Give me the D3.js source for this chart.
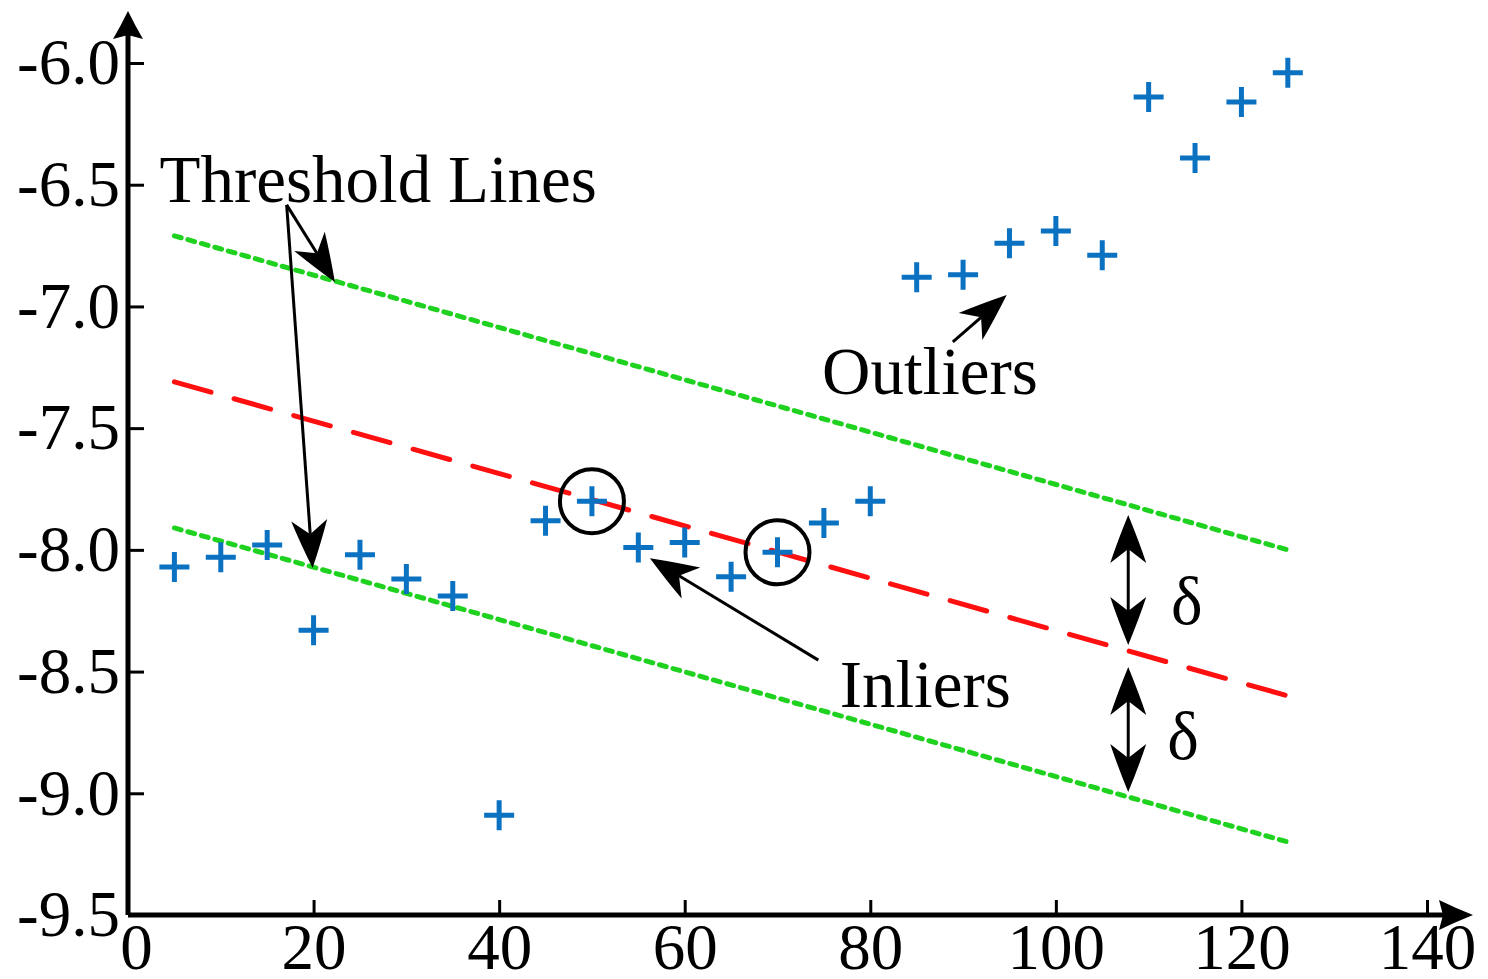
<!DOCTYPE html>
<html>
<head>
<meta charset="utf-8">
<script src="https://cdn.jsdelivr.net/npm/d3@7"></script>
<style>
  body { margin: 0; background: #fff; }
  text { font-family: 'Liberation Serif', 'Times New Roman', serif; }
</style>
</head>
<body>
<div id="chart"></div>
<script>
// sample points
const ptX = [5, 10, 15, 20, 25, 30, 35, 40, 45, 50, 55, 60, 65, 70, 75, 80, 85, 90, 95, 100, 105, 110, 115, 120, 125]
const ptY = [-8.07, -8.03, -7.98, -8.33, -8.02, -8.12, -8.19, -9.09, -7.88, -7.80, -7.99, -7.97, -8.11, -8.01, -7.89, -7.80,
  -6.88, -6.87, -6.74, -6.69, -6.79, -6.14, -6.39, -6.16, -6.04]
const circledX = [50, 70]

// fitted line and threshold lines (x = 5 .. 125)
const lineX = [5, 125]
const fitY = [-7.31, -8.60]
const upperY = [-6.71, -8.00]
const lowerY = [-7.91, -9.20]

// ticks
const xTicks = [0, 20, 40, 60, 80, 100, 120, 140]
const yTicks = [-9.5, -9.0, -8.5, -8.0, -7.5, -7.0, -6.5, -6.0]

// annotations, in data units
const labels = [
  { text: 'Threshold Lines', x: 3.4, y: -6.57 },
  { text: 'Outliers', x: 74.8, y: -7.36 },
  { text: 'Inliers', x: 76.7, y: -8.645 },
  { text: 'δ', x: 112.4, y: -8.305 },
  { text: 'δ', x: 112.0, y: -8.86 }
]
const arrows = [
  { x1: 17.1, y1: -6.583, x2: 22.3, y2: -6.90, both: false },
  { x1: 17.1, y1: -6.583, x2: 19.9, y2: -8.075, both: false },
  { x1: 88.9, y1: -7.146, x2: 94.7, y2: -6.953, both: false },
  { x1: 74.4, y1: -8.453, x2: 56.25, y2: -8.034, both: false },
  { x1: 107.8, y1: -7.857, x2: 107.8, y2: -8.391, both: true },
  { x1: 107.8, y1: -8.481, x2: 107.8, y2: -8.995, both: true }
]

const W = 1488
const H = 979
const svg = d3.select('#chart').append('svg')
  .attr('width', W)
  .attr('height', H)

const xs = d3.scaleLinear().domain([0, 140]).range([128, 1427])
const ys = d3.scaleLinear().domain([-9.5, -6.0]).range([915, 63])

// concave arrow head, returns path and the point where the shaft should stop
function head (x1, y1, x2, y2, len, hw, notch, bend) {
  const a = Math.atan2(y2 - y1, x2 - x1)
  const ux = Math.cos(a), uy = Math.sin(a)
  const px = -uy, py = ux
  const bx = x2 - ux * len, by = y2 - uy * len
  const lx = bx + px * hw, ly = by + py * hw
  const rx = bx - px * hw, ry = by - py * hw
  const nx = x2 - ux * (len - notch), ny = y2 - uy * (len - notch)
  const k = bend === undefined ? 0.4 : bend
  const c1x = x2 - ux * len * 0.55 + px * hw * k, c1y = y2 - uy * len * 0.55 + py * hw * k
  const c2x = x2 - ux * len * 0.55 - px * hw * k, c2y = y2 - uy * len * 0.55 - py * hw * k
  return {
    d: `M${x2},${y2}Q${c1x},${c1y} ${lx},${ly}L${nx},${ny}L${rx},${ry}Q${c2x},${c2y} ${x2},${y2}Z`,
    nx, ny
  }
}

// threshold lines
const line = d3.line().x((d) => xs(d[0])).y((d) => ys(d[1]))
const green = '#1fd21f'
svg.append('path')
  .attr('d', line(d3.zip(lineX, upperY)))
  .attr('fill', 'none').attr('stroke', green).attr('stroke-width', 5)
  .attr('stroke-dasharray', '7 7').attr('stroke-linecap', 'round')
svg.append('path')
  .attr('d', line(d3.zip(lineX, lowerY)))
  .attr('fill', 'none').attr('stroke', green).attr('stroke-width', 5)
  .attr('stroke-dasharray', '7 7').attr('stroke-linecap', 'round')
svg.append('path')
  .attr('d', line(d3.zip(lineX, fitY)))
  .attr('fill', 'none').attr('stroke', '#ff1010').attr('stroke-width', 5)
  .attr('stroke-dasharray', '38 24').attr('stroke-linecap', 'round')

// points as plus signs
const pts = d3.zip(ptX, ptY)
svg.selectAll('.pt')
  .data(pts)
  .enter()
  .append('path')
  .classed('pt', true)
  .attr('d', (d) => `M${xs(d[0]) - 15},${ys(d[1])}h30M${xs(d[0])},${ys(d[1]) - 15}v30`)
  .attr('stroke', '#0a72c0')
  .attr('stroke-width', 5)
  .attr('fill', 'none')

// circles around the chosen inliers
svg.selectAll('.ring')
  .data(pts.filter((d) => circledX.includes(d[0])))
  .enter()
  .append('circle')
  .classed('ring', true)
  .attr('cx', (d) => xs(d[0]))
  .attr('cy', (d) => ys(d[1]))
  .attr('r', 32)
  .attr('fill', 'none')
  .attr('stroke', '#000')
  .attr('stroke-width', 4)

// annotation arrows
arrows.forEach((a) => {
  const X1 = xs(a.x1), Y1 = ys(a.y1), X2 = xs(a.x2), Y2 = ys(a.y2)
  const h2 = head(X1, Y1, X2, Y2, 48, 18, 14, 0.6)
  let sx = X1, sy = Y1
  if (a.both) {
    const h1 = head(X2, Y2, X1, Y1, 48, 18, 14, 0.6)
    svg.append('path').attr('d', h1.d).attr('fill', '#000')
    sx = h1.nx
    sy = h1.ny
  }
  svg.append('line')
    .attr('x1', sx).attr('y1', sy).attr('x2', h2.nx).attr('y2', h2.ny)
    .attr('stroke', '#000').attr('stroke-width', 3)
  svg.append('path').attr('d', h2.d).attr('fill', '#000')
})

svg.selectAll('.lbl')
  .data(labels)
  .enter()
  .append('text')
  .classed('lbl', true)
  .attr('x', (d) => xs(d.x))
  .attr('y', (d) => ys(d.y))
  .attr('font-size', 67)
  .attr('fill', '#000')
  .text((d) => d.text)

// axes
const xAxis = svg.append('g')
  .attr('transform', `translate(0,${ys(-9.5)})`)
  .call(d3.axisBottom(xs).tickValues(xTicks).tickSizeInner(-15).tickSizeOuter(0).tickPadding(8).tickFormat((d) => d))
const yAxis = svg.append('g')
  .attr('transform', `translate(${xs(0)},0)`)
  .call(d3.axisLeft(ys).tickValues(yTicks).tickSizeInner(-16).tickSizeOuter(0).tickPadding(8).tickFormat((d) => d.toFixed(1)))

;[xAxis, yAxis].forEach((ax) => {
  ax.select('.domain').remove()
  ax.selectAll('.tick line').attr('stroke', '#000').attr('stroke-width', 3)
  ax.selectAll('.tick text')
    .attr('font-family', "'Liberation Serif', 'Times New Roman', serif")
    .attr('font-size', 65)
    .attr('fill', '#000')
})
// the "0" label sits a little right of its tick
xAxis.selectAll('.tick text').filter((d) => d === 0).attr('dx', 8)

// axis lines with arrow heads
const x0 = xs(0), y0 = ys(-9.5)
svg.append('path')
  .attr('d', `M${x0},${y0}H1450M${x0},${y0}V30`)
  .attr('stroke', '#000').attr('stroke-width', 5).attr('fill', 'none')
svg.append('path').attr('d', head(x0, y0, 1473, y0, 34, 15, 4, 0.5).d).attr('fill', '#000')
svg.append('path').attr('d', head(x0, y0, x0, 11, 28, 15, 4, 0.5).d).attr('fill', '#000')
</script>
</body>
</html>
